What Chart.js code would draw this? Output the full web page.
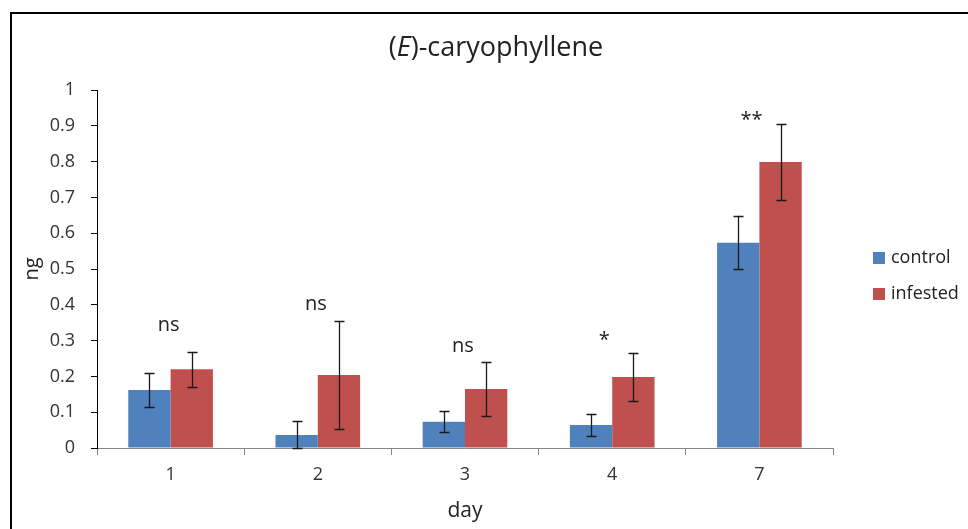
<!DOCTYPE html>
<html>
<head>
<meta charset="utf-8">
<script src="https://cdn.jsdelivr.net/npm/chart.js@4"></script>
<style>
  html, body { margin: 0; padding: 0; background: #fff; overflow: hidden; width: 968px; height: 529px; }
  #frame { position: absolute; left: 10px; top: 12px; width: 968px; height: 520px; border-left: 2px solid #000; border-top: 2px solid #000; }
  #c { display: block; }
</style>
</head>
<body>
<div id="frame"><canvas id="c" width="968" height="520"></canvas></div>
<script>
const categories = ['1', '2', '3', '4', '7'];
const controlValues = [0.162, 0.036, 0.073, 0.064, 0.573];
const infestedValues = [0.220, 0.204, 0.165, 0.198, 0.799];
const controlErrors = [0.048, 0.039, 0.029, 0.031, 0.074];
const infestedErrors = [0.049, 0.151, 0.075, 0.066, 0.107];
const sigLabels = ['ns', 'ns', 'ns', '*', '**'];
const sigBaseline = [0.327, 0.385, 0.268, 0.285, 0.899];
const yTicks = [0, 0.1, 0.2, 0.3, 0.4, 0.5, 0.6, 0.7, 0.8, 0.9, 1];

const FONT = "'Open Sans', 'Liberation Sans', sans-serif";
const BLUE = '#4F81BD';
const RED = '#C0504D';
const errorSets = [controlErrors, infestedErrors];

const overlay = {
  id: 'overlay',
  afterDatasetsDraw(chart) {
    const ctx = chart.ctx;
    const ys = chart.scales.y, xs = chart.scales.x;
    ctx.save();
    ctx.strokeStyle = '#1a1a1a';
    ctx.lineWidth = 1.3;
    chart.data.datasets.forEach((ds, di) => {
      const meta = chart.getDatasetMeta(di);
      meta.data.forEach((el, i) => {
        const v = ds.data[i], e = errorSets[di][i];
        const yt = Math.round(ys.getPixelForValue(v + e)) + 0.5;
        const yb = Math.round(ys.getPixelForValue(Math.max(0, v - e))) + 0.5;
        const x = Math.round(el.x) + 0.5;
        ctx.beginPath();
        ctx.moveTo(x, yt); ctx.lineTo(x, yb);
        ctx.moveTo(x - 5, yt); ctx.lineTo(x + 5, yt);
        ctx.moveTo(x - 5, yb); ctx.lineTo(x + 5, yb);
        ctx.stroke();
      });
    });
    ctx.fillStyle = '#222';
    ctx.font = '20px ' + FONT;
    ctx.textAlign = 'center';
    ctx.textBaseline = 'alphabetic';
    sigLabels.forEach((t, i) => {
      const off = t.startsWith('*') ? -8 : -2;
      ctx.fillText(t, xs.getPixelForValue(i) + off, ys.getPixelForValue(sigBaseline[i]));
    });
    ctx.restore();
  },
  afterDraw(chart) {
    const ctx = chart.ctx;
    const ca = chart.chartArea;
    ctx.save();
    const parts = [['(', 'normal'], ['E', 'italic'], [')-caryophyllene', 'normal']];
    const size = 27;
    let total = 0;
    parts.forEach(p => { ctx.font = p[1] + ' ' + size + 'px ' + FONT; total += ctx.measureText(p[0]).width; });
    let x = chart.width / 2 - total / 2;
    ctx.fillStyle = '#222';
    ctx.textBaseline = 'middle';
    ctx.textAlign = 'left';
    parts.forEach(p => {
      ctx.font = p[1] + ' ' + size + 'px ' + FONT;
      ctx.fillText(p[0], x, 34);
      x += ctx.measureText(p[0]).width;
    });
    const lx = ca.right + 40;
    const cy = (ca.top + ca.bottom) / 2 + 7;
    ctx.font = '18px ' + FONT;
    chart.data.datasets.forEach((ds, i) => {
      const yy = cy - 18 + i * 36;
      ctx.fillStyle = ds.backgroundColor;
      ctx.fillRect(lx, yy - 6, 12, 12);
      ctx.fillStyle = '#222';
      ctx.fillText(ds.label, lx + 18, yy);
    });
    ctx.restore();
  }
};

new Chart(document.getElementById('c'), {
  type: 'bar',
  data: {
    labels: categories,
    datasets: [
      { label: 'control', data: controlValues, backgroundColor: BLUE },
      { label: 'infested', data: infestedValues, backgroundColor: RED }
    ]
  },
  options: {
    responsive: false,
    animation: false,
    devicePixelRatio: 1,
    layout: { padding: { left: 0, top: 76, right: 147, bottom: 0 } },
    plugins: { legend: { display: false }, title: { display: false }, tooltip: { enabled: false } },
    datasets: { bar: { barPercentage: 1, categoryPercentage: 0.575 } },
    scales: {
      x: {
        afterFit(s) { s.height = 86; },
        grid: { display: true, offset: true, drawOnChartArea: false, drawTicks: true, tickLength: 7, color: '#868686' },
        border: { display: true, color: '#868686', width: 1 },
        ticks: { color: '#333', font: { family: FONT, size: 18 }, padding: 9 },
        title: { display: true, text: 'day', color: '#222', font: { family: FONT, size: 21 }, padding: { top: 0, bottom: 10 } }
      },
      y: {
        min: 0, max: 1,
        afterFit(s) { s.width = 85; },
        afterBuildTicks(s) { s.ticks = yTicks.map(v => ({ value: v })); },
        grid: { display: true, drawOnChartArea: false, drawTicks: true, tickLength: 6, color: '#000' },
        border: { display: true, color: '#000', width: 1 },
        ticks: { color: '#333', font: { family: FONT, size: 18 }, padding: 16, callback: v => String(v) },
        title: { display: true, text: 'ng', color: '#222', font: { family: FONT, size: 20 }, padding: { top: 8, bottom: 0 } }
      }
    }
  },
  plugins: [overlay]
});
</script>
</body>
</html>
